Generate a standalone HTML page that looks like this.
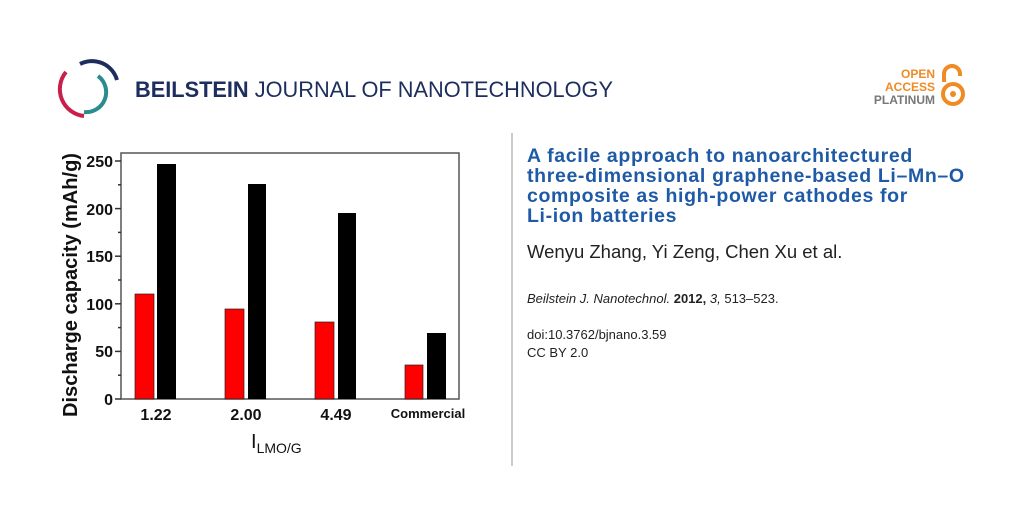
<!DOCTYPE html>
<html><head><style>
body{margin:0;width:1024px;height:512px;background:#fff;position:relative;overflow:hidden;font-family:"Liberation Sans",sans-serif}
.a{position:absolute;white-space:nowrap}
</style></head><body>
<svg class="a" style="left:0;top:0" width="1024" height="512">
 <path d="M80 64 A26 26 0 0 1 117 80" stroke="#1d2e5e" stroke-width="4" fill="none"/>
 <path d="M66 72 A27 27 0 0 0 84 116" stroke="#c8204a" stroke-width="4" fill="none"/>
 <path d="M98 76 A20 20 0 0 1 84 112" stroke="#2a8c8c" stroke-width="4" fill="none"/>
 <text x="135" y="97" font-family="Liberation Sans" font-size="22" fill="#1d2e5e" textLength="478" lengthAdjust="spacingAndGlyphs"><tspan font-weight="bold">BEILSTEIN</tspan> JOURNAL OF NANOTECHNOLOGY</text>
 <text x="935" y="78" text-anchor="end" font-size="12" font-weight="bold" fill="#f08a24">OPEN</text>
 <text x="935" y="91" text-anchor="end" font-size="12" font-weight="bold" fill="#f08a24">ACCESS</text>
 <text x="935" y="104" text-anchor="end" font-size="12" font-weight="bold" fill="#777">PLATINUM</text>
 <path d="M944 82 V74 A8 8 0 0 1 960 74 V76" stroke="#f08a24" stroke-width="4" fill="none"/>
 <circle cx="953" cy="94" r="10" stroke="#f08a24" stroke-width="4" fill="none"/>
 <circle cx="953" cy="94" r="3" fill="#f08a24"/>
 <line x1="512" y1="133" x2="512" y2="466" stroke="#999"/>
 <rect x="121" y="153" width="338" height="246" fill="none" stroke="#555" stroke-width="1.5"/>
 <g stroke="#333" stroke-width="1.5">
  <line x1="115" y1="399" x2="121" y2="399"/><line x1="115" y1="351.4" x2="121" y2="351.4"/><line x1="115" y1="303.8" x2="121" y2="303.8"/><line x1="115" y1="256.2" x2="121" y2="256.2"/><line x1="115" y1="208.6" x2="121" y2="208.6"/><line x1="115" y1="161" x2="121" y2="161"/>
  <line x1="118" y1="375.2" x2="121" y2="375.2"/><line x1="118" y1="327.6" x2="121" y2="327.6"/><line x1="118" y1="280" x2="121" y2="280"/><line x1="118" y1="232.4" x2="121" y2="232.4"/><line x1="118" y1="184.8" x2="121" y2="184.8"/>
 </g>
 <g fill="#f00" stroke="#222" stroke-width="0.7">
  <rect x="135" y="294" width="19" height="105"/><rect x="225" y="309" width="19" height="90"/><rect x="315" y="322" width="19" height="77"/><rect x="405" y="365" width="18" height="34"/>
 </g>
 <g fill="#000">
  <rect x="157" y="164" width="19" height="235"/><rect x="248" y="184" width="18" height="215"/><rect x="338" y="213" width="18" height="186"/><rect x="427" y="333" width="19" height="66"/>
 </g>
 <g font-size="16" font-weight="bold" fill="#111" text-anchor="end">
  <text x="113" y="405">0</text><text x="113" y="357">50</text><text x="113" y="310">100</text><text x="113" y="262">150</text><text x="113" y="215">200</text><text x="113" y="167">250</text>
 </g>
 <g font-size="16" font-weight="bold" fill="#111" text-anchor="middle">
  <text x="156" y="420">1.22</text><text x="246" y="420">2.00</text><text x="336" y="420">4.49</text><text x="428" y="418" font-size="13">Commercial</text>
 </g>
 <text x="251" y="448" font-size="20" fill="#111">I<tspan font-size="14" dy="5">LMO/G</tspan></text>
 <text transform="translate(77 285) rotate(-90)" text-anchor="middle" font-size="20" font-weight="bold" fill="#111" textLength="264" lengthAdjust="spacingAndGlyphs">Discharge capacity (mAh/g)</text>
</svg>
<div class="a" style="left:527px;top:146px;font-size:19.5px;letter-spacing:0.65px;font-weight:bold;color:#1f5aa6;line-height:20px">A facile approach to nanoarchitectured<br>three-dimensional graphene-based Li–Mn–O<br>composite as high-power cathodes for<br>Li-ion batteries</div>
<div class="a" style="left:527px;top:241px;font-size:18.5px;color:#222">Wenyu Zhang, Yi Zeng, Chen Xu et al.</div>
<div class="a" style="left:527px;top:291px;font-size:13px;color:#222"><i>Beilstein J. Nanotechnol.</i> <b>2012,</b> <i>3,</i> 513–523.</div>
<div class="a" style="left:527px;top:327px;font-size:13px;color:#222">doi:10.3762/bjnano.3.59</div>
<div class="a" style="left:527px;top:345px;font-size:13px;color:#222">CC BY 2.0</div>
</body></html>
